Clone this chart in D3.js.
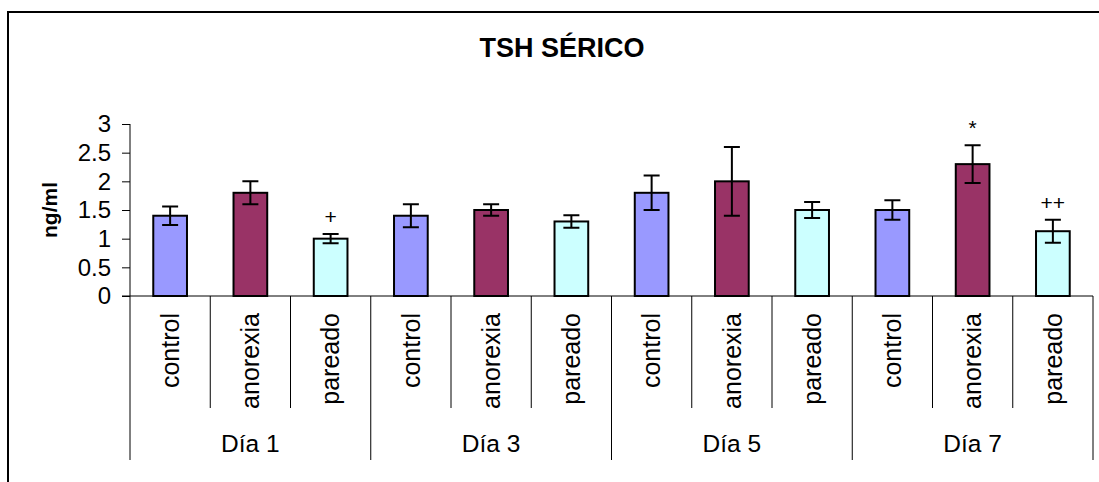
<!DOCTYPE html>
<html>
<head>
<meta charset="utf-8">
<script src="https://cdn.jsdelivr.net/npm/d3@7"></script>
<style>
  html, body { margin: 0; padding: 0; background: #fff; }
  svg { display: block; font-family: "Liberation Sans", Arial, sans-serif; }
</style>
</head>
<body>
<div id="chart"></div>
<script>
// chart data
const days = ["Día 1", "Día 3", "Día 5", "Día 7"];
const groups = ["control", "anorexia", "pareado"];
const groupColors = ["#9999FF", "#993366", "#CCFFFF"];
const controlValues = [1.4, 1.4, 1.8, 1.5];
const controlErrors = [0.16, 0.2, 0.3, 0.17];
const anorexiaValues = [1.8, 1.5, 2.0, 2.3];
const anorexiaErrors = [0.2, 0.1, 0.6, 0.33];
const pareadoValues = [1.0, 1.3, 1.5, 1.13];
const pareadoErrors = [0.08, 0.11, 0.14, 0.2];
// significance marks: [day index, group index, symbol]
const marks = [[0, 2, "+"], [3, 1, "*"], [3, 2, "++"]];
const yTicks = [0, 0.5, 1, 1.5, 2, 2.5, 3];

const values = [controlValues, anorexiaValues, pareadoValues];
const errors = [controlErrors, anorexiaErrors, pareadoErrors];

const width = 1099, height = 482;
const plot = { left: 130, right: 1093, top: 124, bottom: 296 };

const rows = [];
days.forEach((day, d) => {
    groups.forEach((grp, g) => {
        rows.push({ key: d + "-" + g, day: d, group: g, name: grp,
                    value: values[g][d], err: errors[g][d] });
    });
});

const svg = d3.select("#chart").append("svg")
    .attr("width", width).attr("height", height);

// outer chart border (cropped at right and bottom)
svg.append("path")
    .attr("d", `M8,${height + 5}V12H${width + 5}`)
    .attr("fill", "none").attr("stroke", "#000").attr("stroke-width", 2);

svg.append("text")
    .attr("x", 562).attr("y", 57)
    .attr("text-anchor", "middle")
    .attr("font-size", 27).attr("font-weight", "bold")
    .text("TSH SÉRICO");

const x = d3.scaleBand().domain(rows.map(r => r.key)).range([plot.left, plot.right]);
const y = d3.scaleLinear().domain([0, 3]).range([plot.bottom, plot.top]);
const barW = x.bandwidth() * 0.42;

// y axis
const yAxis = svg.append("g")
    .attr("transform", `translate(${plot.left},0)`)
    .call(d3.axisLeft(y).tickValues(yTicks).tickSize(8).tickPadding(11)
        .tickFormat(d => String(d)));
yAxis.select(".domain").attr("d", `M0,${plot.top}V${plot.bottom}`).attr("stroke", "#000");
yAxis.selectAll(".tick line").attr("stroke", "#000");
yAxis.selectAll("text").attr("font-size", 24).attr("font-family", "Liberation Sans, Arial, sans-serif")
    .attr("fill", "#000");

svg.append("text")
    .attr("transform", `translate(57,210) rotate(-90)`)
    .attr("text-anchor", "middle")
    .attr("font-size", 21).attr("font-weight", "bold")
    .text("ng/ml");

// bars
svg.append("g").selectAll("rect").data(rows).join("rect")
    .attr("x", r => x(r.key) + (x.bandwidth() - barW) / 2)
    .attr("y", r => y(r.value))
    .attr("width", barW)
    .attr("height", r => y(0) - y(r.value))
    .attr("fill", r => groupColors[r.group])
    .attr("stroke", "#000").attr("stroke-width", 2);

// error bars
const eb = svg.append("g").attr("stroke", "#000").attr("stroke-width", 2).attr("fill", "none");
eb.selectAll("path").data(rows).join("path")
    .attr("d", r => {
        const cx = x(r.key) + x.bandwidth() / 2;
        const t = y(r.value + r.err), b = y(r.value - r.err);
        return `M${cx},${t}V${b}M${cx - 8},${t}H${cx + 8}M${cx - 8},${b}H${cx + 8}`;
    });

// significance symbols
svg.append("g").selectAll("text").data(marks).join("text")
    .attr("x", m => x(m[0] + "-" + m[1]) + x.bandwidth() / 2)
    .attr("y", m => y(values[m[1]][m[0]] + errors[m[1]][m[0]]) - 10)
    .attr("text-anchor", "middle")
    .attr("font-size", 21)
    .text(m => m[2]);

// x axis line and category separators
const xa = svg.append("g").attr("stroke", "#000").attr("stroke-width", 1);
xa.append("line").attr("x1", plot.left - 8).attr("x2", plot.right)
    .attr("y1", plot.bottom).attr("y2", plot.bottom);
const seps = d3.range(rows.length + 1);
xa.selectAll("line.sep").data(seps).join("line").attr("class", "sep")
    .attr("x1", i => plot.left + i * x.step())
    .attr("x2", i => plot.left + i * x.step())
    .attr("y1", plot.bottom)
    .attr("y2", i => i % groups.length === 0 ? 460 : 408);

// category labels
svg.append("g").selectAll("text").data(rows).join("text")
    .attr("transform", r => `translate(${x(r.key) + x.bandwidth() / 2},313) rotate(-90)`)
    .attr("text-anchor", "end")
    .attr("dy", "0.35em")
    .attr("font-size", 25)
    .text(r => r.name);

// day labels
svg.append("g").selectAll("text").data(days).join("text")
    .attr("x", (d, i) => plot.left + (i * groups.length + groups.length / 2) * x.step())
    .attr("y", 452)
    .attr("text-anchor", "middle")
    .attr("font-size", 24.5)
    .text(d => d);
</script>
</body>
</html>
